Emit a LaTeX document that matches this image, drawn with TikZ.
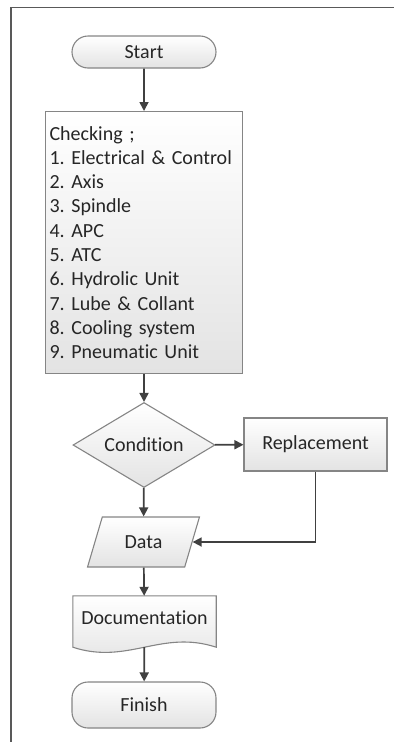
\documentclass[tikz,border=0pt]{standalone}
\usepackage{fontspec}
\setmainfont{Carlito}[Ligatures=CommonOff]
\frenchspacing
\usetikzlibrary{arrows.meta,shapes.geometric}

\tikzset{
  caixa/.style={draw=borda, line width=1.1pt, top color=white, bottom color=black!11,
    text=texto, inner sep=0pt},
  terminal/.style={caixa, rounded corners=16pt, minimum width=144pt},
  seta/.style={draw=ligacao, line width=1.7pt, -{Triangle[length=9pt,width=9pt]}},
}

\begin{document}
\begin{tikzpicture}[x=1pt,y=1pt,font=\fontsize{20}{24.3}\selectfont]
  \colorlet{borda}{black!48}
  \colorlet{ligacao}{black!75}
  \colorlet{texto}{black!85}
  \useasboundingbox (0,0) rectangle (394,-742);
  % moldura (so esquerda e topo)
  \draw[black!65, line width=1.3pt] (11,-742) -- (11,-7.5) -- (394,-7.5);

  % blocos do fluxo
  \node[terminal, minimum height=32pt] (inicio) at (144,-52) {Start};
  \node[caixa, anchor=north west, minimum width=197pt, minimum height=262pt,
        inner xsep=4pt, text width=189pt, align=left] (verif) at (45,-111)
    {Checking ;\\ 1. Electrical \& Control\\ 2. Axis\\ 3. Spindle\\ 4. APC\\
     5. ATC\\ 6. Hydrolic Unit\\ 7. Lube \& Collant\\ 8. Cooling system\\
     9. Pneumatic Unit};
  \node[caixa, diamond, minimum width=142pt, minimum height=85pt, aspect=1.67]
    (cond) at (144,-445) {Condition};
  \node[caixa, minimum width=143pt, minimum height=53pt] (troca) at (315.5,-444.5)
    {Replacement};
  \node[caixa, trapezium, trapezium left angle=62.5, trapezium right angle=117.5,
        trapezium stretches=true, minimum width=112pt, minimum height=50pt]
    (dados) at (143.5,-542) {Data};
  % documento: retangulo sem borda, contorno ondulado desenhado depois
  \node[minimum width=143pt, minimum height=51pt, inner sep=0pt] (doc) at (144.5,-621.5) {};
  \draw[caixa] (doc.north west) -- (doc.north east) -- (doc.south east)
    .. controls +(-55,18) and +(55,-18) .. (doc.south west) -- cycle;
  \node[text=texto] at ([yshift=4pt]doc.center) {Documentation};
  \node[terminal, minimum height=46pt] (fim) at (144,-705) {Finish};

  % ligacoes
  \foreach \a/\b in {inicio/verif, verif/cond, cond/dados, dados/doc, doc/fim}
    \draw[seta] (\a) -- (\b);
  \draw[seta] (cond) -- (troca);
  \draw[seta] (troca.south) |- (dados.east);
\end{tikzpicture}
\end{document}
